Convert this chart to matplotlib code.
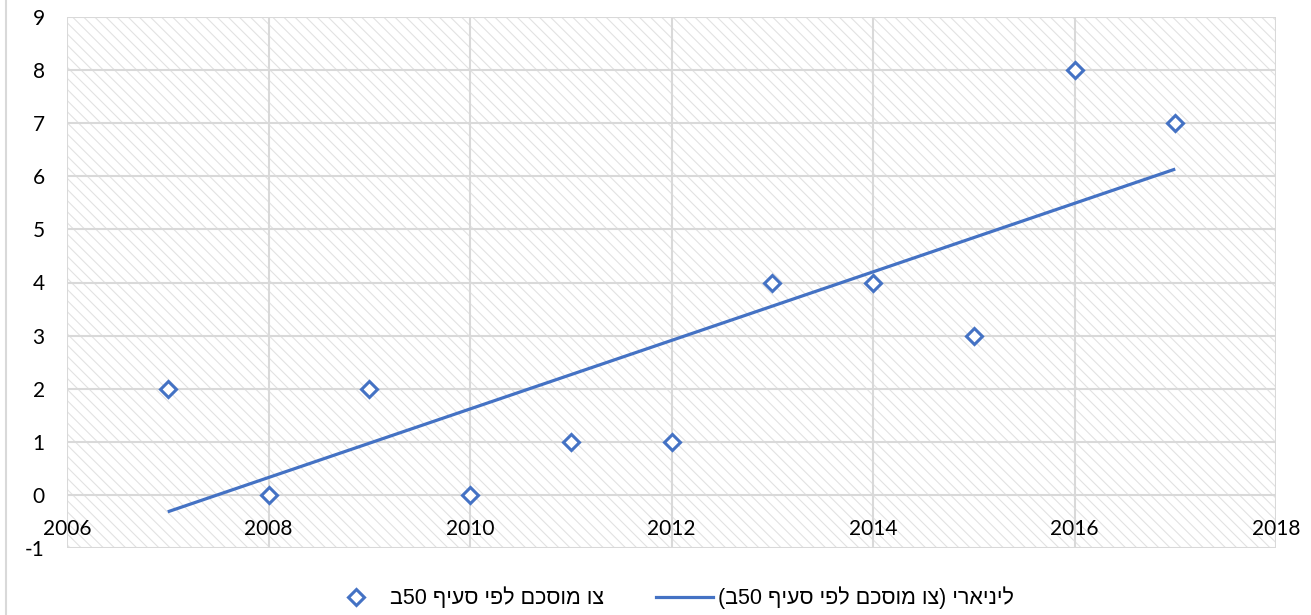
import re
import numpy as np
import matplotlib
matplotlib.use("Agg")
import matplotlib.pyplot as plt
from matplotlib.patches import Rectangle
from matplotlib.lines import Line2D

# ---- data ----
years = [2007, 2008, 2009, 2010, 2011, 2012, 2013, 2014, 2015, 2016, 2017]
values = [2, 0, 2, 0, 1, 1, 4, 4, 3, 8, 7]
x_ticks = [2006, 2008, 2010, 2012, 2014, 2016, 2018]
y_ticks = [-1, 0, 1, 2, 3, 4, 5, 6, 7, 8, 9]
series_label = "צו מוסכם לפי סעיף 50ב"
trend_label = "ליניארי (צו מוסכם לפי סעיף 50ב)"


def visual(s):
    """Convert logical RTL Hebrew string into visual (LTR glyph) order."""
    r = s[::-1]
    r = r.translate(str.maketrans("()", ")("))
    r = re.sub(r"\d+", lambda m: m.group(0)[::-1], r)
    return r


BLUE = "#4472C4"
GRID = "#d9d9d9"

plt.rcParams["hatch.linewidth"] = 0.8
plt.rcParams["axes.unicode_minus"] = False

W, H = 1311, 615
fig = plt.figure(figsize=(W / 100, H / 100), dpi=100)
ax = fig.add_axes([67 / W, 1 - 548 / H, (1276 - 67) / W, (548 - 17) / H])

ax.set_xlim(x_ticks[0], x_ticks[-1])
ax.set_ylim(y_ticks[0], y_ticks[-1])

# hatched background
ax.patch.set_facecolor("white")
bg = Rectangle((0, 0), 1, 1, transform=ax.transAxes, facecolor="white",
               edgecolor="#e2e2e2", hatch="\\\\\\", linewidth=0, zorder=0)
ax.add_patch(bg)

ax.set_xticks(x_ticks)
ax.set_yticks(y_ticks)
ax.grid(True, color=GRID, linewidth=1.5, zorder=1)
ax.set_axisbelow(True)
for sp in ax.spines.values():
    sp.set_visible(False)
ax.spines["bottom"].set_visible(True)
ax.spines["bottom"].set_color("none")
ax.spines["bottom"].set_position(("data", 0))

ax.tick_params(axis="both", length=0, labelsize=15, labelcolor="black")
ax.tick_params(axis="x", pad=17)
ax.tick_params(axis="y", pad=16)
for lab in ax.get_xticklabels() + ax.get_yticklabels():
    lab.set_family(["Lato", "DejaVu Sans"])

# trend line (least squares)
slope, intercept = np.polyfit(years, values, 1)
tx = np.array([years[0], years[-1]])
ax.plot(tx, slope * tx + intercept, color=BLUE, linewidth=2.3, zorder=3,
        solid_capstyle="butt")

# points
ax.plot(years, values, linestyle="none", marker="D", markersize=8.2,
        markerfacecolor="white", markeredgecolor=BLUE, markeredgewidth=2.2,
        zorder=4)

# chart-area left border
fig.add_artist(Line2D([6.5 / W, 6.5 / W], [0, 1], color=GRID, linewidth=1.5))

h1 = Line2D([], [], linestyle="none", marker="D", markersize=8.2,
            markerfacecolor="white", markeredgecolor=BLUE, markeredgewidth=2.2)
h2 = Line2D([], [], color=BLUE, linewidth=2.3)
leg = fig.legend([h1, h2], [visual(series_label), visual(trend_label)],
                 loc="center", bbox_to_anchor=(671 / W, 1 - 598 / H),
                 ncol=2, frameon=False, handlelength=2.65, handletextpad=0.25,
                 columnspacing=2.4, borderpad=0, borderaxespad=0,
                 prop={"family": ["Liberation Sans", "DejaVu Sans"], "size": 15.5})

fig.savefig("out.png", dpi=100)
